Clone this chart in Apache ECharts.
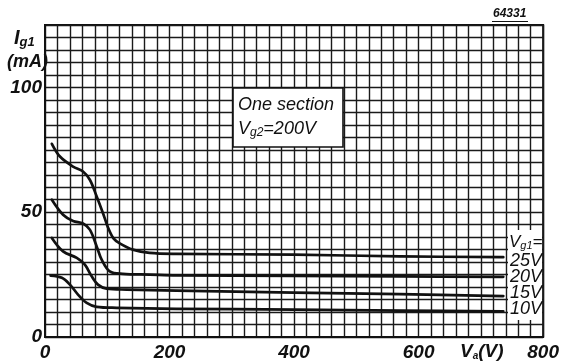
<!DOCTYPE html>
<html><head><meta charset="utf-8">
<script src="https://cdn.jsdelivr.net/npm/echarts@6/dist/echarts.min.js"></script>
<style>html,body{margin:0;padding:0;background:#fff}#c{width:562px;height:362px}</style>
</head><body><div id="c"></div>
<script>
// Grid current Ig1 (mA) versus anode voltage Va (V), one section, Vg2 = 200 V
const curveLabels = ['25V', '20V', '15V', '10V'];

const va25 = [11, 24, 45, 61, 72, 83, 93, 101, 110, 120, 141, 168, 211, 400, 570, 736];
const ig25 = [77.4, 72.3, 68.3, 66.3, 63, 56.3, 49.7, 44, 39.5, 37.5, 35, 33.7, 33.3, 33, 32.3, 32];

const va20 = [11, 29, 45, 61, 72, 83, 91, 104, 125, 168, 211, 400, 570, 736];
const ig20 = [55, 49, 46.5, 45.5, 43, 36.3, 31, 26.3, 25.3, 25, 24.7, 24.5, 24.3, 24.1];

const va15 = [11, 29, 51, 64, 75, 85, 99, 131, 211, 400, 570, 736];
const ig15 = [39.7, 34.3, 31.7, 29, 24.3, 21, 19.4, 19, 18.6, 17.8, 17.2, 16.4];

const va10 = [9, 27, 40, 53, 67, 83, 115, 211, 400, 570, 736];
const ig10 = [24.6, 23.7, 21, 17, 13.7, 12.1, 11.7, 11.3, 11, 10.6, 10.3];

const xTicks = [0, 200, 400, 600, 800];
const yTicks = [0, 50, 100];

const curves = [[va25, ig25], [va20, ig20], [va15, ig15], [va10, ig10]];

const FONT = 'Liberation Sans';
const ink = '#111';
const TOP = 100;

const chart = echarts.init(document.getElementById('c'), null, { renderer: 'canvas' });

const series = curves.map(([xs, ys], i) => ({
  name: curveLabels[i],
  type: 'line',
  data: xs.map((x, k) => [x, ys[k]]),
  smooth: 0.35,
  showSymbol: false,
  lineStyle: { color: ink, width: 2.7, cap: 'round', join: 'round' },
  z: 3
}));

const sub = (size, pad) => ({ fontFamily: FONT, fontStyle: 'italic', fontSize: size, fill: ink, padding: [pad, 0, 0, 0] });

chart.setOption({
  animation: false,
  backgroundColor: '#fff',
  grid: { left: 45, right: 17, top: 25, bottom: 24.5, show: true, borderColor: ink, borderWidth: 2, backgroundColor: 'transparent' },
  xAxis: {
    type: 'value', min: 0, max: 800, interval: 20,
    axisLine: { show: true, lineStyle: { color: ink, width: 2 } },
    axisTick: { show: false },
    splitLine: { show: true, lineStyle: { color: '#1a1a1a', width: 1.4 } },
    axisLabel: {
      margin: 6, color: ink, fontFamily: FONT, fontStyle: 'italic', fontWeight: 'bold', fontSize: 19,
      formatter: v => xTicks.includes(v) ? String(v) : ''
    }
  },
  yAxis: {
    type: 'value', min: 0, max: 125, interval: 5,
    axisLine: { show: true, lineStyle: { color: ink, width: 2 } },
    axisTick: { show: false },
    splitLine: { show: true, lineStyle: { color: '#1a1a1a', width: 1.4 } },
    axisLabel: {
      margin: 3, color: ink, fontFamily: FONT, fontStyle: 'italic', fontWeight: 'bold', fontSize: 19,
      formatter: v => yTicks.includes(v) ? String(v) : ''
    }
  },
  series: series,
  graphic: { elements: [
    // y-axis name
    { type: 'text', left: 14, top: 28, z: TOP, style: {
        text: '{i|I}{s|g1}', fill: ink,
        rich: {
          i: { fontFamily: FONT, fontStyle: 'italic', fontWeight: 'bold', fontSize: 20, fill: ink },
          s: Object.assign(sub(13, 8), { fontWeight: 'bold' })
        } } },
    { type: 'text', left: 7, top: 53, z: TOP, style: {
        text: '(mA)', fill: ink, font: 'italic bold 18px "Liberation Sans"' } },
    // x-axis name
    { type: 'text', left: 460, top: 342, z: TOP, style: {
        text: '{v|V}{s|a}{v|(V)}', fill: ink,
        rich: {
          v: { fontFamily: FONT, fontStyle: 'italic', fontWeight: 'bold', fontSize: 19, fill: ink },
          s: Object.assign(sub(10, 9), { fontWeight: 'bold' })
        } } },
    // drawing number
    { type: 'text', left: 493, top: 8, z: TOP, style: {
        text: '64331', fill: ink, font: 'italic bold 12px "Liberation Sans"' } },
    { type: 'line', z: TOP, shape: { x1: 492, y1: 21.5, x2: 528, y2: 21.5 }, style: { stroke: ink, lineWidth: 1 } },
    // note box
    { type: 'rect', z: TOP, shape: { x: 233, y: 88, width: 110, height: 59 }, style: { fill: '#fff', stroke: ink, lineWidth: 1.6 } },
    { type: 'text', z: TOP + 1, x: 238, y: 96, style: { text: 'One section', fill: ink, font: 'italic 18px "Liberation Sans"' } },
    { type: 'text', z: TOP + 1, x: 238, y: 119, style: {
        text: '{v|V}{s|g2}{v|=200V}', fill: ink,
        rich: { v: { fontFamily: FONT, fontStyle: 'italic', fontSize: 18, fill: ink }, s: sub(12, 8) } } },
    // curve parameter labels
    { type: 'rect', z: TOP, shape: { x: 508, y: 230, width: 34, height: 90 }, style: { fill: '#fff' } },
    { type: 'text', z: TOP + 1, x: 509, y: 233, style: {
        text: '{v|V}{s|g1}{v|=}', fill: ink,
        rich: { v: { fontFamily: FONT, fontStyle: 'italic', fontSize: 17, fill: ink }, s: sub(11, 7) } } },
    ...curveLabels.map((t, i) => ({ type: 'text', z: TOP + 1, x: 510, y: 252 + i * 16, style: {
        text: t, fill: ink, font: 'italic 18px "Liberation Sans"' } }))
  ] }
});
</script></body></html>
